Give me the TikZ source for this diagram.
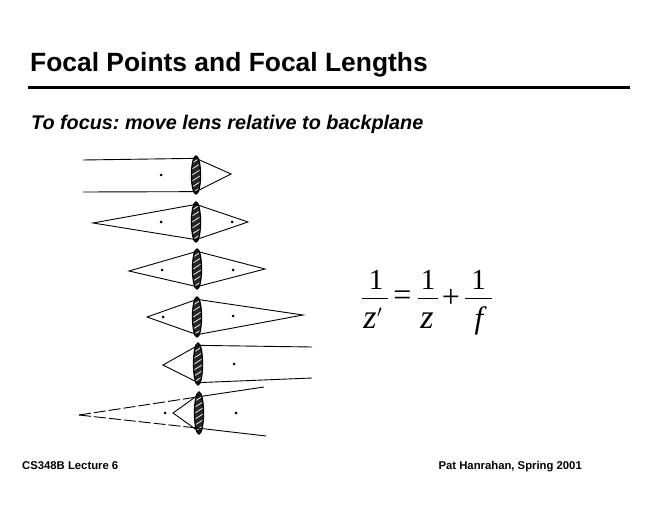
\documentclass[tikz,border=0pt]{standalone}
\usepackage{fontspec}
\setmainfont{Liberation Sans}
\newfontfamily\serifeq{Liberation Serif}
\usepackage{graphicx}
\usetikzlibrary{shapes.geometric}
\frenchspacing
\begin{document}
\begin{tikzpicture}[x=1pt,y=-1pt,
  lens/.style={ellipse,draw,line width=1.3pt,fill=black!85,minimum width=9pt,inner sep=0pt,
    path picture={\foreach \k in {-5,...,5}{\draw[white,line width=0.7pt]
      ([xshift=-4pt,yshift=\k*6pt]path picture bounding box.center) -- ++(8pt,5pt);}}},
  ray/.style={line width=0.9pt},
  virt/.style={line width=0.9pt,dash pattern=on 12pt off 3pt},
  fdot/.style={circle,fill,inner sep=0pt,minimum size=3pt},
  lbl/.style={inner sep=0pt},
  num/.style={inner sep=0pt,anchor=base,font=\fontsize{29}{30}\selectfont\serifeq},
  den/.style={inner sep=0pt,anchor=base,font=\fontsize{34}{36}\selectfont\serifeq\itshape},
  op/.style={inner sep=0pt,font=\fontsize{32}{34}\selectfont\serifeq},
  bar/.style={line width=1.7pt}]
\useasboundingbox (0,0) rectangle (660,510);
% header
\node[lbl,anchor=base west] (title) at (30,72) {\fontsize{26.4}{30}\selectfont\bfseries Focal Points and Focal Lengths};
\coordinate (r1) at (28,88);
\coordinate (r2) at (630,88);
\draw[line width=3pt] (r1) -- (r2);
\node[lbl,anchor=base west] (sub) at (31,130) {\fontsize{19.8}{23}\selectfont\bfseries\itshape To focus: move lens relative to backplane};
% footer
\node[lbl,anchor=base west] (foot1) at (22,469) {\fontsize{11.3}{13}\selectfont\bfseries CS348B Lecture 6};
\node[lbl,anchor=base east] (foot2) at (582,469) {\fontsize{11.3}{13}\selectfont\bfseries Pat Hanrahan, Spring 2001};
% equation 1/z' = 1/z + 1/f
\node[num] (n1) at (376,289) {1};
\node[num] (n2) at (428,289) {1};
\node[num] (n3) at (478.5,289) {1};
\coordinate (b1a) at (362,298.5); \coordinate (b1b) at (388,298.5);
\coordinate (b2a) at (418,298.5); \coordinate (b2b) at (438,298.5);
\coordinate (b3a) at (465,298.5); \coordinate (b3b) at (492,298.5);
\draw[bar] (b1a) -- (b1b);
\draw[bar] (b2a) -- (b2b);
\draw[bar] (b3a) -- (b3b);
\node[den] (z1) at (370,328) {z};
\node[lbl] (pr) at (379.5,313) {\scalebox{1.7}{$\prime$}};
\node[den] (z2) at (427,328) {z};
\node[num,font=\fontsize{31}{33}\selectfont\serifeq\itshape] (f3) at (479,328) {f};
\node[op] (eqs) at (402.5,298.5) {=};
\node[op] (pls) at (451,298.5) {+};
% lenses
\node[lens,minimum height=38pt] (L1) at (196,175) {};
\node[lens,minimum height=40pt] (L2) at (196,222) {};
\node[lens,minimum height=40pt] (L3) at (197,269) {};
\node[lens,minimum height=40pt] (L4) at (197,317) {};
\node[lens,minimum height=42pt] (L5) at (198,364) {};
\node[lens,minimum height=42pt] (L6) at (199,413) {};
% hit points on lenses
\foreach \i in {1,...,6}{
  \coordinate (T\i) at ([yshift=-3pt]L\i.north);
  \coordinate (B\i) at ([yshift=3pt]L\i.south);
}
% lens 1: parallel in, focus out
\coordinate (a1t) at (83,160);
\coordinate (a1b) at (83,192);
\coordinate (p1) at (231,174);
\draw[ray] (a1t) -- (T1) -- (p1) -- (B1) -- (a1b);
\node[fdot] (d1l) at (161,175) {};
% lens 2
\coordinate (o2) at (93,223);
\coordinate (p2) at (248,222);
\draw[ray] (o2) -- (T2) -- (p2) -- (B2) -- cycle;
\node[fdot] (d2l) at (161,222) {};
\node[fdot] (d2r) at (232,222) {};
% lens 3
\coordinate (o3) at (129,271);
\coordinate (p3) at (265,269);
\draw[ray] (o3) -- (T3) -- (p3) -- (B3) -- cycle;
\node[fdot] (d3l) at (162,270) {};
\node[fdot] (d3r) at (233,270) {};
% lens 4
\coordinate (o4) at (147,317);
\coordinate (p4) at (303,315);
\draw[ray] (o4) -- (T4) -- (p4) -- (B4) -- cycle;
\node[fdot] (d4l) at (163,317) {};
\node[fdot] (d4r) at (233,316) {};
% lens 5: object at focus, parallel out
\coordinate (o5) at (163,365);
\coordinate (e5t) at (312,347);
\coordinate (e5b) at (312,378);
\draw[ray] (e5t) -- (T5) -- (o5) -- (B5) -- (e5b);
\node[fdot] (d5r) at (234,364) {};
% lens 6: object inside focus, virtual image
\coordinate (o6) at (173,413);
\coordinate (v6) at (79,415);
\coordinate (e6t) at (264,387);
\coordinate (e6b) at (266,436);
\coordinate (h6t) at (197,397);
\coordinate (h6b) at (197,428);
\draw[ray] (T6) -- (o6) -- (B6);
\draw[virt] (v6) -- (h6t);
\draw[virt] (v6) -- (h6b);
\draw[ray] (h6t) -- (e6t);
\draw[ray] (h6b) -- (e6b);
\node[fdot] (d6l) at (165,413) {};
\node[fdot] (d6r) at (236,413) {};
\end{tikzpicture}
\end{document}
